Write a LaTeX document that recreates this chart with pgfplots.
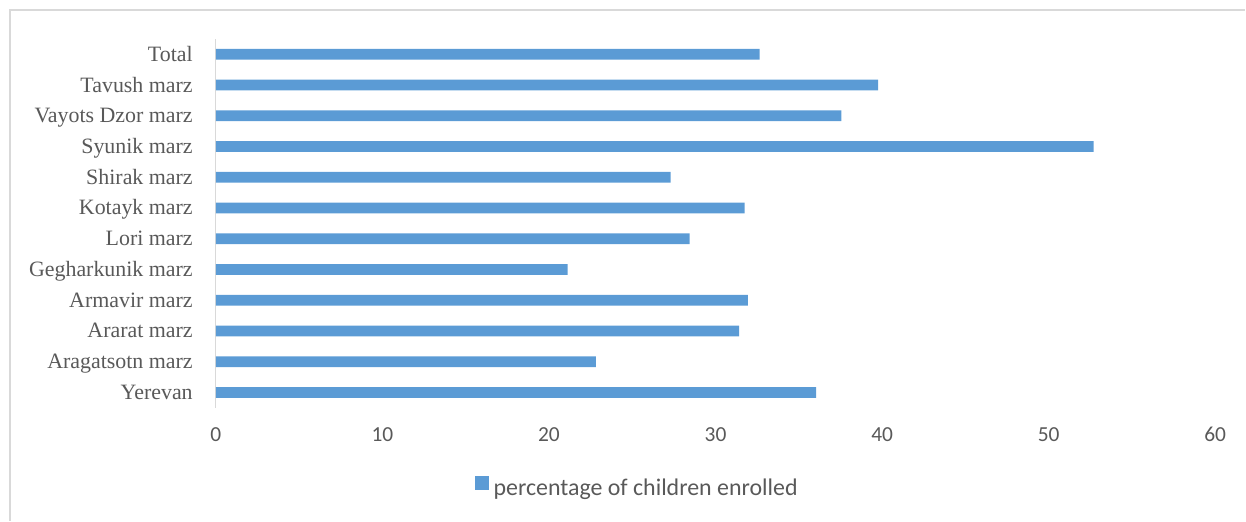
\documentclass[border=0pt]{standalone}
\usepackage{fontspec}
\setmainfont{Liberation Serif}
\newfontfamily\carlito{Carlito}
\usepackage{pgfplots}
\pgfplotsset{compat=1.18}
\definecolor{barblue}{HTML}{5B9BD5}
\definecolor{txtgray}{HTML}{595959}
\definecolor{linegray}{HTML}{D9D9D9}
\begin{document}
\begin{tikzpicture}
\begin{axis}[
  at={(0,0)}, anchor=south west,
  scale only axis, width=1000bp, height=369bp,
  xbar, bar width=0.35,
  xmin=0, xmax=60, ymin=-0.5, ymax=11.5,
  xtick={0,10,...,60},
  ytick={0,...,11},
  yticklabels={Yerevan,Aragatsotn marz,Ararat marz,Armavir marz,Gegharkunik marz,Lori marz,Kotayk marz,Shirak marz,Syunik marz,Vayots Dzor marz,Tavush marz,Total},
  axis lines*=left,
  x axis line style={draw=none},
  y axis line style={draw=linegray, line width=1.2bp},
  major tick length=0pt,
  /pgf/number format/assume math mode=true,
  xticklabel style={font=\carlito\fontsize{21.5}{24}\selectfont, text=txtgray, anchor=center, inner sep=0pt, yshift=-27bp},
  yticklabel style={font=\fontsize{22}{25}\selectfont, text=txtgray, anchor=base east, inner sep=0pt, xshift=-23bp, yshift=-7bp},
  legend style={at={(axis description cs:0.4215,-0.2168)}, anchor=center, draw=none, fill=none,
    font=\carlito\fontsize{24}{27}\selectfont, text=txtgray},
  legend image code/.code={\fill[barblue] (0bp,-2bp) rectangle (14bp,12bp); \path (17bp,0bp);},
  clip=false,
]
\addplot[fill=barblue, draw=none] coordinates {
  (36.04,0) (22.82,1) (31.42,2) (31.94,3) (21.12,4) (28.44,5)
  (31.74,6) (27.30,7) (52.70,8) (37.56,9) (39.76,10) (32.64,11)
};
\addlegendentry{percentage of children enrolled}
\end{axis}
\draw[linegray, line width=1.5bp] (-206bp,-113bp) -- (-206bp,398bp) -- (1030bp,398bp);
\path[use as bounding box] (-216bp,-113bp) rectangle (1030bp,408bp);
\end{tikzpicture}
\end{document}
